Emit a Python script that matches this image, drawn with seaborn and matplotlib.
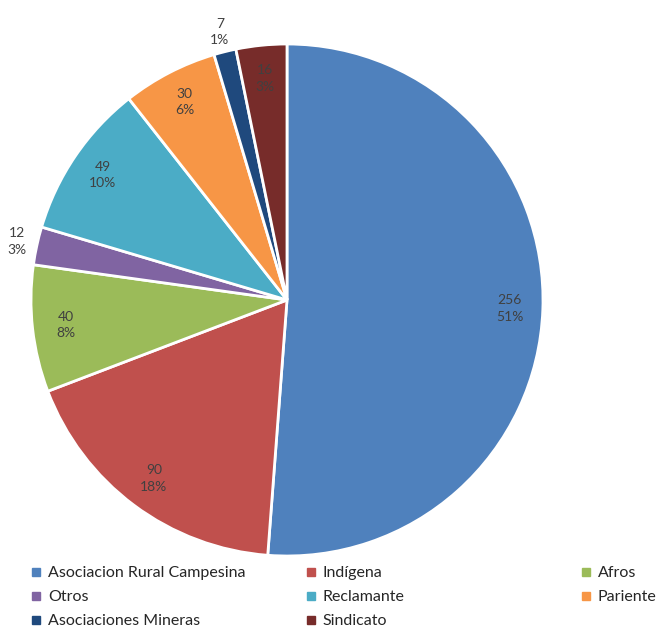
import matplotlib.pyplot as plt
import seaborn as sns
from matplotlib.lines import Line2D
import numpy as np

categories = ["Asociacion Rural Campesina", "Indígena", "Afros", "Otros",
              "Reclamante", "Pariente", "Asociaciones Mineras", "Sindicato"]
values = [256, 90, 40, 12, 49, 30, 7, 16]
pct_labels = ["51%", "18%", "8%", "3%", "10%", "6%", "1%", "3%"]
colors = ["#4F81BD", "#C0504D", "#9BBB59", "#8064A2",
          "#4BACC6", "#F79646", "#1F497D", "#772C2A"]

sns.set_theme(style="white")
plt.rcParams["font.family"] = ["Lato", "DejaVu Sans"]

W, H = 664, 633
fig = plt.figure(figsize=(W / 100, H / 100), dpi=100)
ax = fig.add_axes([0, 0, 1, 1])

cx, cy, r = 287, H - 300, 256
wedges, _ = ax.pie(values, colors=colors, startangle=90, counterclock=False,
                   center=(cx, cy), radius=r, frame=True,
                   wedgeprops=dict(edgecolor="white", linewidth=2))
ax.set_xlim(0, W)
ax.set_ylim(0, H)
ax.set_aspect("equal")
ax.axis("off")

total = sum(values)
for w, v, p in zip(wedges, values, pct_labels):
    ang = np.deg2rad((w.theta1 + w.theta2) / 2)
    dist = 0.87 if v / total >= 0.03 else 1.08
    x = cx + dist * r * np.cos(ang)
    y = cy + dist * r * np.sin(ang)
    ax.text(x, y, f"{v}\n{p}", ha="center", va="center", fontsize=10,
            color="#404040", linespacing=1.45)

# legend, three columns laid out row-wise like the original
cols = [[0, 3, 6], [1, 4, 7], [2, 5]]
col_x = [31, 306, 581]
for cx_leg, idx in zip(col_x, cols):
    handles = [Line2D([], [], marker="s", linestyle="none", markersize=5.5,
                      color=colors[i]) for i in idx]
    fig.legend(handles, [categories[i] for i in idx], loc="upper left",
               bbox_to_anchor=(cx_leg / W, 1 - 566 / H), frameon=False,
               fontsize=11.5, handlelength=0.6, handletextpad=0.45,
               labelspacing=0.62, borderaxespad=0, borderpad=0,
               labelcolor="#262626")

fig.savefig("out.png", dpi=100)
